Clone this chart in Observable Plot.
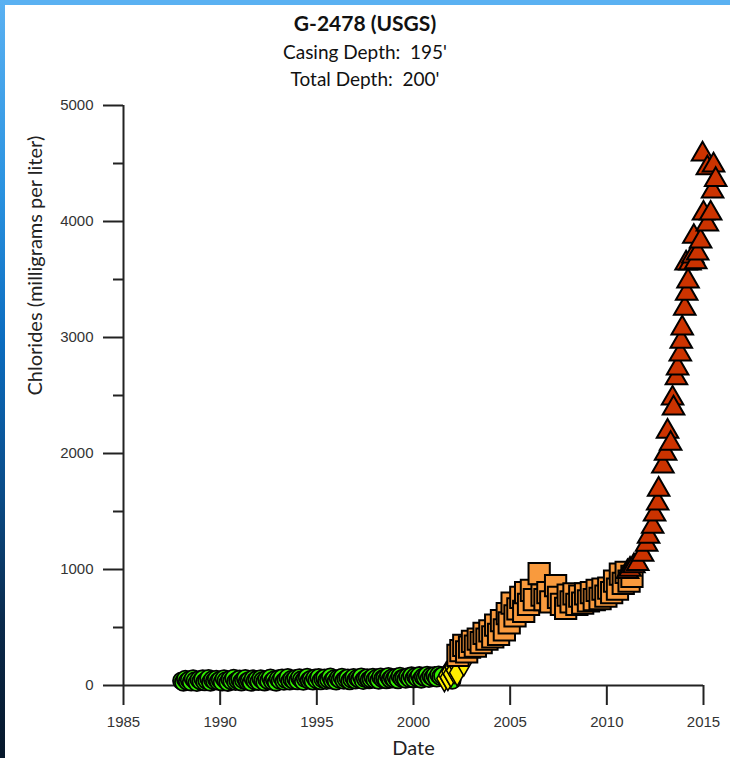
<!DOCTYPE html>
<html>
<head>
<meta charset="utf-8">
<script src="https://cdn.jsdelivr.net/npm/d3@7"></script>
<script src="https://cdn.jsdelivr.net/npm/@observablehq/plot@0.6"></script>
<style>
  html, body { margin: 0; padding: 0; background: #fff; }
  #wrap { position: relative; width: 730px; height: 758px; overflow: hidden; background: #fff; }
  #titles { position: relative; width: 730px; height: 95px; }
  .t { position: absolute; left: 0; width: 730px; text-align: center; font-family: Lato, "Open Sans", sans-serif; color: #111; white-space: pre; line-height: 1.2; }
  #topbar { position: absolute; left: 0; top: 0; width: 730px; height: 5px; background: #5ab1f2; }
  #leftbar { position: absolute; left: 0; top: 0; width: 5px; height: 758px;
    background: linear-gradient(#5ab1f2 0%, #2a92e0 25%, #0b6cbf 45%, #0a4c88 65%, #0a2a4c 82%, #06172a 100%); }
  svg { display: block; }
</style>
</head>
<body>
<div id="wrap">
  <div id="titles">
    <div class="t" style="top:10px;font-size:21px;font-weight:bold;">G-2478 (USGS)</div>
    <div class="t" style="top:40.5px;font-size:19px;">Casing Depth:  195'</div>
    <div class="t" style="top:68px;font-size:19px;">Total Depth:  200'</div>
  </div>
  <div id="chart"></div>
  <div id="topbar"></div>
  <div id="leftbar"></div>
</div>
<script>
// ---- Data (decimal years, chlorides mg/L) ----
const greenDates = [
  1988.0,1988.1,1988.2,1988.3,1988.4,1988.5,1988.6,1988.7,1988.8,1988.9,
  1989.0,1989.1,1989.2,1989.3,1989.4,1989.5,1989.6,1989.7,1989.8,1989.9,
  1990.0,1990.1,1990.2,1990.3,1990.4,1990.5,1990.6,1990.7,1990.8,1990.9,
  1991.0,1991.1,1991.2,1991.3,1991.4,1991.5,1991.6,1991.7,1991.8,1991.9,
  1992.0,1992.1,1992.2,1992.3,1992.4,1992.5,1992.6,1992.7,1992.8,1992.9,
  1993.0,1993.1,1993.2,1993.3,1993.4,1993.5,1993.6,1993.7,1993.8,1993.9,
  1994.0,1994.1,1994.2,1994.3,1994.4,1994.5,1994.6,1994.7,1994.8,1994.9,
  1995.0,1995.1,1995.2,1995.3,1995.4,1995.5,1995.6,1995.7,1995.8,1995.9,
  1996.0,1996.1,1996.2,1996.3,1996.4,1996.5,1996.6,1996.7,1996.8,1996.9,
  1997.0,1997.1,1997.2,1997.3,1997.4,1997.5,1997.6,1997.7,1997.8,1997.9,
  1998.0,1998.1,1998.2,1998.3,1998.4,1998.5,1998.6,1998.7,1998.8,1998.9,
  1999.0,1999.1,1999.2,1999.3,1999.4,1999.5,1999.6,1999.7,1999.8,1999.9,
  2000.0,2000.1,2000.2,2000.3,2000.4,2000.5,2000.6,2000.7,2000.8,2000.9,
  2001.0,2001.1,2001.2,2001.3,2001.4,2001.5,2002.0];
const greenValues = [
  40,28,55,35,48,30,60,42,25,50,
  38,58,32,45,62,28,50,40,55,35,
  48,30,60,42,26,52,38,64,33,45,
  56,30,48,62,36,44,27,58,40,52,
  34,60,45,30,55,40,66,36,50,28,
  58,42,65,35,50,70,38,55,45,62,
  40,68,50,35,60,72,45,55,38,66,
  48,70,40,58,65,42,52,75,45,60,
  38,62,50,72,44,58,66,40,55,70,
  46,64,52,75,42,60,68,48,56,72,
  50,66,44,74,58,62,48,78,54,68,
  56,72,48,80,62,66,52,76,60,84,
  58,78,64,86,54,74,68,90,60,82,
  70,88,64,92,76,85,45];

const yellowDates = [2001.6,2001.7,2001.78,2001.86,2001.94,2002.02,2002.1,2002.18,2002.26];
const yellowValues = [60,90,70,120,100,160,130,190,110];
const yellowTriDates = [2002.6];
const yellowTriValues = [190];

const orangeDates = [2002.3,2002.45,2002.6,2002.75,2002.9,2003.05,2003.2,2003.35,2003.5,2003.65,
  2003.8,2003.95,2004.1,2004.25,2004.4,2004.55,2004.7,2004.85,2004.95,2005.1,
  2005.25,2005.4,2005.55,2005.7,2005.8,2005.95,2006.1,2006.25,2006.5,2006.65,
  2006.8,2006.95,2007.1,2007.35,2007.5,2007.65,2007.87,2008.0,2008.15,2008.3,
  2008.45,2008.6,2008.75,2008.9,2009.05,2009.2,2009.35,2009.5,2009.65,2009.8,
  2009.95,2010.1,2010.25,2010.4,2010.55,2010.7,2010.85,2011.0,2011.15,2011.3];
const orangeValues = [260,300,345,290,330,380,340,400,370,450,
  400,470,420,520,440,560,480,620,540,710,
  600,660,760,640,800,700,820,740,965,780,
  740,800,720,860,760,700,664,780,720,790,
  700,770,710,790,730,800,740,820,750,830,
  770,840,800,900,830,960,880,975,900,940];

const redDates = [2011.07,2011.2,2011.4,2011.6,2011.85,2012.06,2012.16,2012.37,2012.47,2012.63,
  2012.68,2012.9,2013.04,2013.14,2013.3,2013.4,2013.45,2013.6,2013.66,2013.8,
  2013.85,2013.9,2014.03,2014.1,2014.13,2014.2,2014.3,2014.45,2014.5,2014.6,
  2014.7,2014.85,2014.95,2015.0,2015.2,2015.2,2015.37,2015.47,2015.52,2015.63];
const redValues = [980,1000,1030,1050,1130,1215,1285,1370,1475,1570,
  1690,1890,2000,2190,2085,2475,2390,2650,2735,2855,
  2965,3080,3250,3640,3380,3485,3640,3700,3870,3650,
  3725,3830,4580,4070,3975,4460,4070,4260,4485,4360];

const xTicks = [1985,1990,1995,2000,2005,2010,2015];
const yTicks = [0,1000,2000,3000,4000,5000];
const yMinorTicks = [500,1500,2500,3500,4500];

const toRows = (ds, vs) => ds.map((d, i) => ({date: d, value: vs[i]}));
const green = toRows(greenDates, greenValues);
const yellow = toRows(yellowDates, yellowValues);
const yellowTri = toRows(yellowTriDates, yellowTriValues);
const orange = toRows(orangeDates, orangeValues);
const red = toRows(redDates, redValues);

const axisColor = "#222";
const tickFont = {fontFamily: "'Liberation Sans', Arial, sans-serif", fontSize: 15};
const labelFont = {fontFamily: "Lato, 'Open Sans', sans-serif", fontSize: 20, fill: "#222"};

const chart = Plot.plot({
  width: 730,
  height: 663,
  marginLeft: 123,
  marginRight: 27,
  marginTop: 10,
  marginBottom: 73,
  style: {fontFamily: "'Liberation Sans', Arial, sans-serif", fontSize: "15px", color: "#333", background: "transparent", overflow: "visible"},
  x: {domain: [1985, 2015], nice: false},
  y: {domain: [0, 5000], nice: false},
  marks: [
    Plot.axisX({ticks: xTicks, tickSize: 20, tickPadding: 11, tickFormat: d => String(d), stroke: axisColor, strokeWidth: 2, fill: "#333", label: null, ...tickFont}),
    Plot.axisY({ticks: yTicks, tickSize: 20, tickPadding: 10, tickFormat: d => String(d), stroke: axisColor, strokeWidth: 2, fill: "#333", label: null, ...tickFont}),
    Plot.axisY({ticks: yMinorTicks, tickSize: 10, tickFormat: () => "", stroke: axisColor, strokeWidth: 2, label: null}),
    Plot.ruleX([1985], {y1: 0, y2: 5000, stroke: axisColor, strokeWidth: 2}),
    Plot.ruleY([0], {x1: 1985, x2: 2015, stroke: axisColor, strokeWidth: 2}),
    Plot.text(["Date"], {frameAnchor: "bottom", dy: 63, lineAnchor: "middle", ...labelFont}),
    Plot.text(["Chlorides (milligrams per liter)"], {frameAnchor: "left", dx: -88, rotate: -90, lineAnchor: "middle", ...labelFont}),
    Plot.dot(green, {x: "date", y: "value", r: 8.5, symbol: "circle", fill: "#33ee00", stroke: "#000", strokeWidth: 1.8}),
    Plot.dot(yellow, {x: "date", y: "value", r: 8, symbol: "diamond", fill: "#ffee00", stroke: "#000", strokeWidth: 1.5}),
    Plot.dot(yellowTri, {x: "date", y: "value", r: 8, symbol: "triangle", rotate: 180, fill: "#ffee00", stroke: "#000", strokeWidth: 1.5}),
    Plot.dot(orange, {x: "date", y: "value", r: 12, symbol: "square", fill: "#f99a3d", stroke: "#000", strokeWidth: 2}),
    Plot.dot(red, {x: "date", y: "value", r: 8, symbol: "triangle", fill: "#cc3300", stroke: "#000", strokeWidth: 2})
  ]
});
document.getElementById("chart").appendChild(chart);
</script>
</body>
</html>
